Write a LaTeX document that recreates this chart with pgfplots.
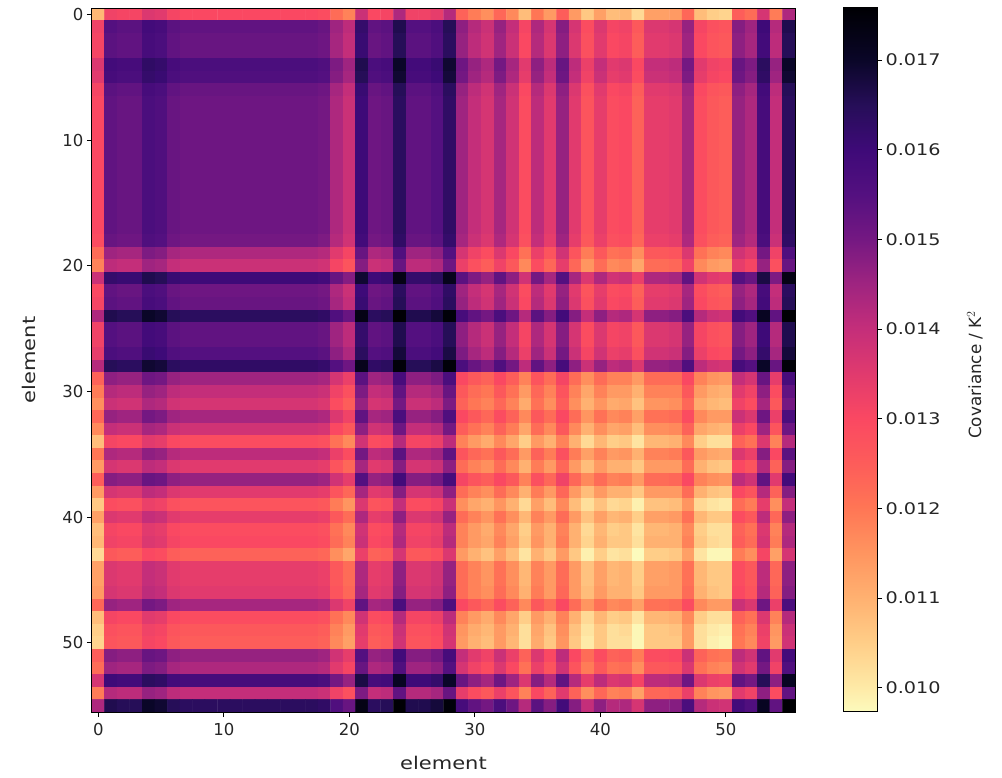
\documentclass[border=0pt]{standalone}
\usepackage{graphicx}
\usepackage{pgfplots}
\usepackage{pgfplotstable}
\usepackage{fontspec}
\setmainfont{DejaVu Sans}
\pgfplotsset{compat=1.18}
% covariance in units of 1e-4 K^2, one line per row of the matrix
\pgfplotstableread[header=false]{
109 132 131 131 136 135 131 130 130 130 130 130 130 130 130 130 130 130 129 122 118 139 130 131 143 132 132 134 142 124 119 116 123 117 108 120 114 125 114 106 113 108 109 103 113 113 114 123 108 105 104 125 122 137 119 143
132 155 154 154 159 158 154 153 153 153 153 153 153 153 153 153 153 153 152 145 141 162 153 154 166 155 155 157 165 147 142 139 146 140 131 143 137 148 137 129 136 131 132 126 136 136 137 146 131 128 127 148 145 160 142 166
131 154 153 153 158 157 153 152 152 152 152 152 152 152 152 152 152 152 151 144 140 161 152 153 165 154 154 156 164 146 141 138 145 139 130 142 136 147 136 128 135 130 131 125 135 135 136 145 130 127 126 147 144 159 141 165
131 154 153 153 158 157 153 152 152 152 152 152 152 152 152 152 152 152 151 144 140 161 152 153 165 154 154 156 164 146 141 138 145 139 130 142 136 147 136 128 135 130 131 125 135 135 136 145 130 127 126 147 144 159 141 165
136 159 158 158 163 162 158 157 157 157 157 157 157 157 157 157 157 157 156 149 145 166 157 158 170 159 159 161 169 151 146 143 150 144 135 147 141 152 141 133 140 135 136 130 140 140 141 150 135 132 131 152 149 164 146 170
135 158 157 157 162 161 157 156 156 156 156 156 156 156 156 156 156 156 155 148 144 165 156 157 169 158 158 160 168 150 145 142 149 143 134 146 140 151 140 132 139 134 135 129 139 139 140 149 134 131 130 151 148 163 145 169
131 154 153 153 158 157 153 152 152 152 152 152 152 152 152 152 152 152 151 144 140 161 152 153 165 154 154 156 164 146 141 138 145 139 130 142 136 147 136 128 135 130 131 125 135 135 136 145 130 127 126 147 144 159 141 165
130 153 152 152 157 156 152 151 151 151 151 151 151 151 151 151 151 151 150 143 139 160 151 152 164 153 153 155 163 145 140 137 144 138 129 141 135 146 135 127 134 129 130 124 134 134 135 144 129 126 125 146 143 158 140 164
130 153 152 152 157 156 152 151 151 151 151 151 151 151 151 151 151 151 150 143 139 160 151 152 164 153 153 155 163 145 140 137 144 138 129 141 135 146 135 127 134 129 130 124 134 134 135 144 129 126 125 146 143 158 140 164
130 153 152 152 157 156 152 151 151 151 151 151 151 151 151 151 151 151 150 143 139 160 151 152 164 153 153 155 163 145 140 137 144 138 129 141 135 146 135 127 134 129 130 124 134 134 135 144 129 126 125 146 143 158 140 164
130 153 152 152 157 156 152 151 151 151 151 151 151 151 151 151 151 151 150 143 139 160 151 152 164 153 153 155 163 145 140 137 144 138 129 141 135 146 135 127 134 129 130 124 134 134 135 144 129 126 125 146 143 158 140 164
130 153 152 152 157 156 152 151 151 151 151 151 151 151 151 151 151 151 150 143 139 160 151 152 164 153 153 155 163 145 140 137 144 138 129 141 135 146 135 127 134 129 130 124 134 134 135 144 129 126 125 146 143 158 140 164
130 153 152 152 157 156 152 151 151 151 151 151 151 151 151 151 151 151 150 143 139 160 151 152 164 153 153 155 163 145 140 137 144 138 129 141 135 146 135 127 134 129 130 124 134 134 135 144 129 126 125 146 143 158 140 164
130 153 152 152 157 156 152 151 151 151 151 151 151 151 151 151 151 151 150 143 139 160 151 152 164 153 153 155 163 145 140 137 144 138 129 141 135 146 135 127 134 129 130 124 134 134 135 144 129 126 125 146 143 158 140 164
130 153 152 152 157 156 152 151 151 151 151 151 151 151 151 151 151 151 150 143 139 160 151 152 164 153 153 155 163 145 140 137 144 138 129 141 135 146 135 127 134 129 130 124 134 134 135 144 129 126 125 146 143 158 140 164
130 153 152 152 157 156 152 151 151 151 151 151 151 151 151 151 151 151 150 143 139 160 151 152 164 153 153 155 163 145 140 137 144 138 129 141 135 146 135 127 134 129 130 124 134 134 135 144 129 126 125 146 143 158 140 164
130 153 152 152 157 156 152 151 151 151 151 151 151 151 151 151 151 151 150 143 139 160 151 152 164 153 153 155 163 145 140 137 144 138 129 141 135 146 135 127 134 129 130 124 134 134 135 144 129 126 125 146 143 158 140 164
130 153 152 152 157 156 152 151 151 151 151 151 151 151 151 151 151 151 150 143 139 160 151 152 164 153 153 155 163 145 140 137 144 138 129 141 135 146 135 127 134 129 130 124 134 134 135 144 129 126 125 146 143 158 140 164
129 152 151 151 156 155 151 150 150 150 150 150 150 150 150 150 150 150 149 142 138 159 150 151 163 152 152 154 162 144 139 136 143 137 128 140 134 145 134 126 133 128 129 123 133 133 134 143 128 125 124 145 142 157 139 163
122 145 144 144 149 148 144 143 143 143 143 143 143 143 143 143 143 143 142 135 131 152 143 144 156 145 145 147 155 137 132 129 136 130 121 133 127 138 127 119 126 121 122 116 126 126 127 136 121 118 117 138 135 150 132 156
118 141 140 140 145 144 140 139 139 139 139 139 139 139 139 139 139 139 138 131 127 148 139 140 152 141 141 143 151 133 128 125 132 126 117 129 123 134 123 115 122 117 118 112 122 122 123 132 117 114 113 134 131 146 128 152
139 162 161 161 166 165 161 160 160 160 160 160 160 160 160 160 160 160 159 152 148 169 160 161 173 162 162 164 172 154 149 146 153 147 138 150 144 155 144 136 143 138 139 133 143 143 144 153 138 135 134 155 152 167 149 173
130 153 152 152 157 156 152 151 151 151 151 151 151 151 151 151 151 151 150 143 139 160 151 152 164 153 153 155 163 145 140 137 144 138 129 141 135 146 135 127 134 129 130 124 134 134 135 144 129 126 125 146 143 158 140 164
131 154 153 153 158 157 153 152 152 152 152 152 152 152 152 152 152 152 151 144 140 161 152 153 165 154 154 156 164 146 141 138 145 139 130 142 136 147 136 128 135 130 131 125 135 135 136 145 130 127 126 147 144 159 141 165
143 166 165 165 170 169 165 164 164 164 164 164 164 164 164 164 164 164 163 156 152 173 164 165 176 166 166 168 175 158 153 150 157 151 142 154 148 159 148 140 147 142 143 137 147 147 148 157 142 139 138 159 156 171 153 176
132 155 154 154 159 158 154 153 153 153 153 153 153 153 153 153 153 153 152 145 141 162 153 154 166 155 155 157 165 147 142 139 146 140 131 143 137 148 137 129 136 131 132 126 136 136 137 146 131 128 127 148 145 160 142 166
132 155 154 154 159 158 154 153 153 153 153 153 153 153 153 153 153 153 152 145 141 162 153 154 166 155 155 157 165 147 142 139 146 140 131 143 137 148 137 129 136 131 132 126 136 136 137 146 131 128 127 148 145 160 142 166
134 157 156 156 161 160 156 155 155 155 155 155 155 155 155 155 155 155 154 147 143 164 155 156 168 157 157 159 167 149 144 141 148 142 133 145 139 150 139 131 138 133 134 128 138 138 139 148 133 130 129 150 147 162 144 168
142 165 164 164 169 168 164 163 163 163 163 163 163 163 163 163 163 163 162 155 151 172 163 164 175 165 165 167 175 157 152 149 156 150 141 153 147 158 147 139 146 141 142 136 146 146 147 156 141 138 137 158 155 170 152 175
124 147 146 146 151 150 146 145 145 145 145 145 145 145 145 145 145 145 144 137 133 154 145 146 158 147 147 149 157 130 126 124 130 125 118 127 122 131 122 116 122 118 118 114 122 122 122 130 118 115 114 140 137 152 134 158
119 142 141 141 146 145 141 140 140 140 140 140 140 140 140 140 140 140 139 132 128 149 140 141 153 142 142 144 152 126 122 120 126 121 114 123 118 127 118 112 118 114 114 110 118 118 118 126 114 111 110 135 132 147 129 153
116 139 138 138 143 142 138 137 137 137 137 137 137 137 137 137 137 137 136 129 125 146 137 138 150 139 139 141 149 124 120 118 123 118 111 121 116 125 116 110 115 111 112 107 115 115 116 123 111 109 108 132 129 144 126 150
123 146 145 145 150 149 145 144 144 144 144 144 144 144 144 144 144 144 143 136 132 153 144 145 157 146 146 148 156 130 126 123 129 124 117 126 122 130 122 115 121 117 118 113 121 121 122 129 117 114 114 139 136 151 133 157
117 140 139 139 144 143 139 138 138 138 138 138 138 138 138 138 138 138 137 130 126 147 138 139 151 140 140 142 150 125 121 118 124 119 112 122 117 126 117 110 116 112 113 108 116 116 117 124 112 110 109 133 130 145 127 151
108 131 130 130 135 134 130 129 129 129 129 129 129 129 129 129 129 129 128 121 117 138 129 130 142 131 131 133 141 118 114 111 117 112 105 114 110 118 110 103 109 105 106 101 109 109 110 117 105 102 102 124 121 136 118 142
120 143 142 142 147 146 142 141 141 141 141 141 141 141 141 141 141 141 140 133 129 150 141 142 154 143 143 145 153 127 123 121 126 122 114 124 119 128 119 113 118 114 115 110 118 118 119 126 114 112 111 136 133 148 130 154
114 137 136 136 141 140 136 135 135 135 135 135 135 135 135 135 135 135 134 127 123 144 135 136 148 137 137 139 147 122 118 116 122 117 110 119 114 123 114 108 114 110 110 106 114 114 114 122 110 107 106 130 127 142 124 148
125 148 147 147 152 151 147 146 146 146 146 146 146 146 146 146 146 146 145 138 134 155 146 147 159 148 148 150 158 131 127 125 130 126 118 128 123 132 123 117 122 118 119 114 122 122 123 130 118 116 115 141 138 153 135 159
114 137 136 136 141 140 136 135 135 135 135 135 135 135 135 135 135 135 134 127 123 144 135 136 148 137 137 139 147 122 118 116 122 117 110 119 114 123 114 108 114 110 110 106 114 114 114 122 110 107 106 130 127 142 124 148
106 129 128 128 133 132 128 127 127 127 127 127 127 127 127 127 127 127 126 119 115 136 127 128 140 129 129 131 139 116 112 110 115 110 103 113 108 117 108 102 107 103 104 99 107 107 108 115 103 101 100 122 119 134 116 140
113 136 135 135 140 139 135 134 134 134 134 134 134 134 134 134 134 134 133 126 122 143 134 135 147 136 136 138 146 122 118 115 121 116 109 118 114 122 114 107 113 109 110 105 113 113 114 121 109 106 106 129 126 141 123 147
108 131 130 130 135 134 130 129 129 129 129 129 129 129 129 129 129 129 128 121 117 138 129 130 142 131 131 133 141 118 114 111 117 112 105 114 110 118 110 103 109 105 106 101 109 109 110 117 105 102 102 124 121 136 118 142
109 132 131 131 136 135 131 130 130 130 130 130 130 130 130 130 130 130 129 122 118 139 130 131 143 132 132 134 142 118 114 112 118 113 106 115 110 119 110 104 110 106 106 102 110 110 110 118 106 103 102 125 122 137 119 143
103 126 125 125 130 129 125 124 124 124 124 124 124 124 124 124 124 124 123 116 112 133 124 125 137 126 126 128 136 114 110 107 113 108 101 110 106 114 106 99 105 101 102 97 105 105 106 113 101 98 98 119 116 131 113 137
113 136 135 135 140 139 135 134 134 134 134 134 134 134 134 134 134 134 133 126 122 143 134 135 147 136 136 138 146 122 118 115 121 116 109 118 114 122 114 107 113 109 110 105 113 113 114 121 109 106 106 129 126 141 123 147
113 136 135 135 140 139 135 134 134 134 134 134 134 134 134 134 134 134 133 126 122 143 134 135 147 136 136 138 146 122 118 115 121 116 109 118 114 122 114 107 113 109 110 105 113 113 114 121 109 106 106 129 126 141 123 147
114 137 136 136 141 140 136 135 135 135 135 135 135 135 135 135 135 135 134 127 123 144 135 136 148 137 137 139 147 122 118 116 122 117 110 119 114 123 114 108 114 110 110 106 114 114 114 122 110 107 106 130 127 142 124 148
123 146 145 145 150 149 145 144 144 144 144 144 144 144 144 144 144 144 143 136 132 153 144 145 157 146 146 148 156 130 126 123 129 124 117 126 122 130 122 115 121 117 118 113 121 121 122 129 117 114 114 139 136 151 133 157
108 131 130 130 135 134 130 129 129 129 129 129 129 129 129 129 129 129 128 121 117 138 129 130 142 131 131 133 141 118 114 111 117 112 105 114 110 118 110 103 109 105 106 101 109 109 110 117 105 102 102 124 121 136 118 142
105 128 127 127 132 131 127 126 126 126 126 126 126 126 126 126 126 126 125 118 114 135 126 127 139 128 128 130 138 115 111 109 114 110 102 112 107 116 107 101 106 102 103 98 106 106 107 114 102 100 99 121 118 133 115 139
104 127 126 126 131 130 126 125 125 125 125 125 125 125 125 125 125 125 124 117 113 134 125 126 138 127 127 129 137 114 110 108 114 109 102 111 106 115 106 100 106 102 102 98 106 106 106 114 102 99 98 120 117 132 114 138
125 148 147 147 152 151 147 146 146 146 146 146 146 146 146 146 146 146 145 138 134 155 146 147 159 148 148 150 158 140 135 132 139 133 124 136 130 141 130 122 129 124 125 119 129 129 130 139 124 121 120 141 138 153 135 159
122 145 144 144 149 148 144 143 143 143 143 143 143 143 143 143 143 143 142 135 131 152 143 144 156 145 145 147 155 137 132 129 136 130 121 133 127 138 127 119 126 121 122 116 126 126 127 136 121 118 117 138 135 150 132 156
137 160 159 159 164 163 159 158 158 158 158 158 158 158 158 158 158 158 157 150 146 167 158 159 171 160 160 162 170 152 147 144 151 145 136 148 142 153 142 134 141 136 137 131 141 141 142 151 136 133 132 153 150 165 147 171
119 142 141 141 146 145 141 140 140 140 140 140 140 140 140 140 140 140 139 132 128 149 140 141 153 142 142 144 152 134 129 126 133 127 118 130 124 135 124 116 123 118 119 113 123 123 124 133 118 115 114 135 132 147 129 153
143 166 165 165 170 169 165 164 164 164 164 164 164 164 164 164 164 164 163 156 152 173 164 165 176 166 166 168 175 158 153 150 157 151 142 154 148 159 148 140 147 142 143 137 147 147 148 157 142 139 138 159 156 171 153 176
}\covtable
\def\cells{}
\foreach \ry in {0,...,55}{%
  \foreach \cx in {0,...,55}{%
    \pgfplotstablegetelem{\ry}{[index]\cx}\of\covtable
    \xdef\cells{\cells (\cx,\ry) [\pgfplotsretval e-4] }%
  }%
}
\newcommand{\wide}[1]{\scalebox{1.2}[1]{#1}}
\pgfplotsset{
  covmap/.style={colormap={mag}{
    rgb255(0)=(252,251,189) rgb255(29)=(254,233,166) rgb255(79)=(255,205,135)
    rgb255(129)=(255,176,112) rgb255(179)=(255,148,95) rgb255(229)=(255,117,85)
    rgb255(279)=(253,92,90) rgb255(329)=(250,72,98) rgb255(379)=(224,58,110)
    rgb255(429)=(196,46,122) rgb255(479)=(158,36,128) rgb255(529)=(116,24,130)
    rgb255(579)=(84,16,128) rgb255(629)=(62,10,120) rgb255(679)=(38,14,88)
    rgb255(729)=(10,6,40) rgb255(787)=(0,0,4)}},
  point meta min=0.00973, point meta max=0.01758,
  cellplot/.style={matrix plot*, mesh/cols=56, point meta=explicit}
}
\begin{document}
\begin{tikzpicture}[x=1pt,y=1pt]
\useasboundingbox (0,0) rectangle (1002,777);
\begin{axis}[
  at={(92pt,65pt)}, anchor=south west, scale only axis,
  width=703pt, height=704pt, axis on top,
  covmap,
  xmin=-0.5, xmax=55.5, ymin=-0.5, ymax=55.5, y dir=reverse,
  xtick={0,10,20,30,40,50}, ytick={0,10,20,30,40,50},
  xtick pos=bottom, ytick pos=left, tick align=outside,
  major tick length=5pt,
  every tick/.style={black, line width=1pt},
  axis line style={line width=1pt},
  tick label style={font=\fontsize{16.5}{18}\selectfont, text=black!85},
  label style={font=\fontsize{17.5}{20}\selectfont, text=black!85},
  xlabel={\wide{element}}, ylabel={\wide{element}},
  xticklabel style={yshift=-3pt},
  xlabel style={yshift=-13pt},
  ylabel style={yshift=20pt},
  /pgf/number format/assume math mode=true,
]
\edef\drawcells{\noexpand\addplot[cellplot] coordinates {\cells};}
\drawcells
\end{axis}
\begin{axis}[
  at={(843pt,65pt)}, anchor=south west, scale only axis,
  width=34pt, height=704pt, axis on top,
  covmap,
  xmin=0, xmax=1, ymin=0.00973, ymax=0.01758,
  xtick=\empty,
  ytick={0.010,0.011,0.012,0.013,0.014,0.015,0.016,0.017},
  yticklabels={\wide{0.010},\wide{0.011},\wide{0.012},\wide{0.013},\wide{0.014},\wide{0.015},\wide{0.016},\wide{0.017}},
  yticklabel pos=right, ytick pos=right, tick align=outside,
  scaled y ticks=false,
  major tick length=5pt,
  every tick/.style={black, line width=1pt},
  axis line style={line width=1pt},
  yticklabel style={font=\fontsize{16}{18}\selectfont, text=black!85},
  ylabel={Covariance / K$^{2}$},
  ylabel style={at={(axis description cs:3.88,0.479)}, anchor=center,
    font=\fontsize{16.8}{20}\selectfont, text=black!85},
]
\addplot[surf, shader=interp, mesh/cols=2, point meta=y] coordinates {
(0,0.00973)(1,0.00973)
(0,0.0100)(1,0.0100)
(0,0.0105)(1,0.0105)
(0,0.0110)(1,0.0110)
(0,0.0115)(1,0.0115)
(0,0.0120)(1,0.0120)
(0,0.0125)(1,0.0125)
(0,0.0130)(1,0.0130)
(0,0.0135)(1,0.0135)
(0,0.0140)(1,0.0140)
(0,0.0145)(1,0.0145)
(0,0.0150)(1,0.0150)
(0,0.0155)(1,0.0155)
(0,0.0160)(1,0.0160)
(0,0.0165)(1,0.0165)
(0,0.0170)(1,0.0170)
(0,0.01758)(1,0.01758)
};
\end{axis}
\end{tikzpicture}
\end{document}
